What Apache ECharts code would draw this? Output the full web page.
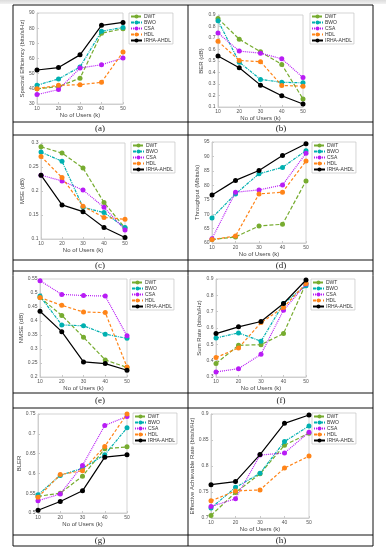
<!DOCTYPE html>
<html><head><meta charset="utf-8">
<script src="https://cdn.jsdelivr.net/npm/echarts@6/dist/echarts.min.js"></script>
<style>html,body{margin:0;padding:0;background:#fff}#c{width:386px;height:549px}</style>
</head><body><div id="c"></div>
<script>
const users = [10, 20, 30, 40, 50];
const seriesNames = ['DWT', 'BWO', 'CSA', 'HDL', 'IRHA-AHDL'];

// (a) Spectral Efficiency
const seDWT = [40, 41.5, 47, 76.6, 79.6];
const seBWO = [42.4, 46.5, 54.4, 77.9, 80.5];
const seCSA = [36.2, 39.5, 53.7, 55.9, 60.3];
const seHDL = [40.1, 42.3, 42.7, 44.3, 64.3];
const seIRHA = [52.4, 54, 62.4, 81.9, 83.8];
// (b) BER
const berDWT = [0.87, 0.69, 0.58, 0.47, 0.17];
const berBWO = [0.85, 0.49, 0.34, 0.315, 0.31];
const berCSA = [0.744, 0.586, 0.568, 0.519, 0.356];
const berHDL = [0.672, 0.505, 0.494, 0.287, 0.281];
const berIRHA = [0.543, 0.442, 0.29, 0.198, 0.126];
// (c) MSE
const mseDWT = [0.292, 0.279, 0.248, 0.176, 0.123];
const mseBWO = [0.281, 0.262, 0.166, 0.155, 0.124];
const mseCSA = [0.233, 0.221, 0.202, 0.166, 0.119];
const mseHDL = [0.272, 0.228, 0.168, 0.145, 0.141];
const mseIRHA = [0.233, 0.171, 0.157, 0.124, 0.103];
// (d) Throughput
const tpDWT = [61.2, 62.1, 65.9, 66.5, 81.5];
const tpBWO = [68.7, 77, 84, 86.2, 92];
const tpCSA = [61.5, 77.6, 78.4, 80.1, 91.1];
const tpHDL = [61.2, 62.4, 77, 77.6, 88.4];
const tpIRHA = [76.6, 81.7, 85.1, 90.3, 94.4];
// (e) NMSE
const nmDWT = [0.484, 0.42, 0.342, 0.261, 0.234];
const nmBWO = [0.489, 0.386, 0.383, 0.353, 0.338];
const nmCSA = [0.544, 0.495, 0.491, 0.489, 0.347];
const nmHDL = [0.484, 0.456, 0.432, 0.43, 0.236];
const nmIRHA = [0.435, 0.362, 0.254, 0.248, 0.224];
// (f) Sum Rate
const srDWT = [0.382, 0.494, 0.498, 0.566, 0.873];
const srBWO = [0.539, 0.57, 0.519, 0.75, 0.859];
const srCSA = [0.331, 0.351, 0.439, 0.709, 0.869];
const srHDL = [0.419, 0.478, 0.633, 0.726, 0.873];
const srIRHA = [0.566, 0.607, 0.64, 0.75, 0.894];
// (g) BLER
const blDWT = [0.542, 0.55, 0.593, 0.662, 0.667];
const blBWO = [0.546, 0.595, 0.613, 0.647, 0.715];
const blCSA = [0.531, 0.548, 0.62, 0.721, 0.744];
const blHDL = [0.54, 0.597, 0.607, 0.668, 0.75];
const blIRHA = [0.507, 0.529, 0.556, 0.641, 0.647];
// (h) Effective Achievable Rate
const eaDWT = [0.705, 0.749, 0.785, 0.84, 0.863];
const eaBWO = [0.719, 0.759, 0.786, 0.847, 0.877];
const eaCSA = [0.722, 0.737, 0.821, 0.825, 0.865];
const eaHDL = [0.733, 0.752, 0.754, 0.796, 0.819];
const eaIRHA = [0.764, 0.77, 0.822, 0.882, 0.898];

const yTicksA = {min: 30, max: 90, interval: 10};
const yTicksB = {min: 0.1, max: 0.9, interval: 0.1};
const yTicksC = {min: 0.1, max: 0.3, interval: 0.05};
const yTicksD = {min: 60, max: 95, interval: 5};
const yTicksE = {min: 0.2, max: 0.55, interval: 0.05};
const yTicksF = {min: 0.3, max: 0.9, interval: 0.1};
const yTicksG = {min: 0.5, max: 0.75, interval: 0.05};
const yTicksH = {min: 0.7, max: 0.9, interval: 0.05};

const panels = [
  {data: [seDWT, seBWO, seCSA, seHDL, seIRHA], y: yTicksA, name: 'Spectral Efficiency (bits/s/Hz)', cap: '(a)',
   grid: [37, 13, 86, 91], gap: 10, leg: [129, 13], capPos: [100, 128.5]},
  {data: [berDWT, berBWO, berCSA, berHDL, berIRHA], y: yTicksB, name: 'BER (dB)', cap: '(b)',
   grid: [218, 15, 85, 92], gap: 11, leg: [310, 13], capPos: [281, 128.5]},
  {data: [mseDWT, mseBWO, mseCSA, mseHDL, mseIRHA], y: yTicksC, name: 'MSE (dB)', cap: '(c)',
   grid: [41, 143, 84, 96], gap: 15, leg: [131, 142], capPos: [100, 265.5]},
  {data: [tpDWT, tpBWO, tpCSA, tpHDL, tpIRHA], y: yTicksD, name: 'Throughput (Mbits/s)', cap: '(d)',
   grid: [212, 142, 94, 101], gap: 10, leg: [312, 142], capPos: [281, 265.5]},
  {data: [nmDWT, nmBWO, nmCSA, nmHDL, nmIRHA], y: yTicksE, name: 'NMSE (dB)', cap: '(e)',
   grid: [40, 279, 87, 98], gap: 15, leg: [130, 279], capPos: [100, 400.5]},
  {data: [srDWT, srBWO, srCSA, srHDL, srIRHA], y: yTicksF, name: 'Sum Rate (bits/s/Hz)', cap: '(f)',
   grid: [216, 279, 90, 98], gap: 12, leg: [311, 279], capPos: [281, 400.5]},
  {data: [blDWT, blBWO, blCSA, blHDL, blIRHA], y: yTicksG, name: 'BLER', cap: '(g)',
   grid: [38, 414, 89, 99], gap: 15, leg: [133, 413], capPos: [100, 540.5]},
  {data: [eaDWT, eaBWO, eaCSA, eaHDL, eaIRHA], y: yTicksH, name: 'Effective Achievable Rate (bits/s/Hz)', cap: '(h)',
   grid: [211, 414, 98, 104], gap: 13, leg: [312, 413], capPos: [281, 540.5]}
];

const colors = ['#77ac30', '#00b0b0', '#b81cf5', '#ff8418', '#000000'];
const dashes = [[4, 2], [3, 1, 1, 1], [1, 1], [3, 2], 'solid'];
const font = 'Liberation Sans, Arial, sans-serif';

const grids = [], xAxes = [], yAxes = [], series = [], legends = [], graphics = [];

panels.forEach((p, i) => {
  grids.push({left: p.grid[0], top: p.grid[1], width: p.grid[2], height: p.grid[3],
    show: true, borderColor: '#c8c8c8', borderWidth: 0.8, backgroundColor: '#fff'});
  xAxes.push({type: 'value', gridIndex: i, min: 10, max: 50, interval: 10,
    name: 'No of Users (k)', nameLocation: 'middle', nameGap: 8,
    nameTextStyle: {fontSize: 6, color: '#444', fontFamily: font},
    axisLine: {show: true, lineStyle: {color: '#c8c8c8', width: 0.8}},
    axisTick: {show: true, inside: true, length: 2, lineStyle: {color: '#c8c8c8'}},
    axisLabel: {fontSize: 5, color: '#555', margin: 2.5, fontFamily: font},
    splitLine: {show: false}});
  yAxes.push({type: 'value', gridIndex: i, min: p.y.min, max: p.y.max, interval: p.y.interval,
    name: p.name, nameLocation: 'middle', nameGap: p.gap,
    nameTextStyle: {fontSize: 6, color: '#444', fontFamily: font},
    axisLine: {show: true, lineStyle: {color: '#c8c8c8', width: 0.8}},
    axisTick: {show: true, inside: true, length: 2, lineStyle: {color: '#c8c8c8'}},
    axisLabel: {fontSize: 5, color: '#555', margin: 2.5, fontFamily: font,
      formatter: v => String(+v.toFixed(2))},
    splitLine: {show: false}});
  p.data.forEach((vals, k) => {
    series.push({type: 'line', name: seriesNames[k], xAxisIndex: i, yAxisIndex: i,
      data: users.map((u, j) => [u, vals[j]]),
      symbol: 'circle', symbolSize: 5, showSymbol: true,
      itemStyle: {color: colors[k]},
      lineStyle: {color: colors[k], width: 1.2, type: dashes[k]},
      animation: false, z: 2 + k});
  });
  legends.push({left: p.leg[0], top: p.leg[1], orient: 'vertical',
    data: seriesNames, backgroundColor: '#fff', borderColor: '#bbb', borderWidth: 0.6,
    padding: [1, 2, 1, 1], itemGap: 1, itemWidth: 11, itemHeight: 5,
    textStyle: {fontSize: 5, color: '#333', fontFamily: font, padding: [0, 0, 0, -3]},
    selectedMode: false});
  graphics.push({type: 'text', x: p.capPos[0], y: p.capPos[1],
    style: {text: p.cap, font: '9px "Liberation Serif", "Times New Roman", serif',
      fill: '#222', align: 'center', verticalAlign: 'middle'}});
});

// Page frame (table lines)
const L = 13, R = 373, M = 188;
const hLines = [5, 122, 135, 260, 271, 393, 408, 535, 546];
graphics.push({type: 'rect', shape: {x: 0, y: 0, width: 386, height: 4},
  style: {fill: {type: 'linear', x: 0, y: 0, x2: 0, y2: 1,
    colorStops: [{offset: 0, color: '#dcdcdc'}, {offset: 1, color: '#f2f2f2'}]}}, z: 0});
hLines.forEach(y => graphics.push({type: 'line', shape: {x1: L, y1: y, x2: R, y2: y},
  style: {stroke: '#111', lineWidth: 1}}));
[L, M, R].forEach(x => graphics.push({type: 'line', shape: {x1: x, y1: 5, x2: x, y2: 546},
  style: {stroke: '#111', lineWidth: 1}}));

const chart = echarts.init(document.getElementById('c'), null, {renderer: 'canvas'});
chart.setOption({
  backgroundColor: '#fff',
  animation: false,
  grid: grids, xAxis: xAxes, yAxis: yAxes, series: series, legend: legends,
  graphic: graphics
});
</script></body></html>
